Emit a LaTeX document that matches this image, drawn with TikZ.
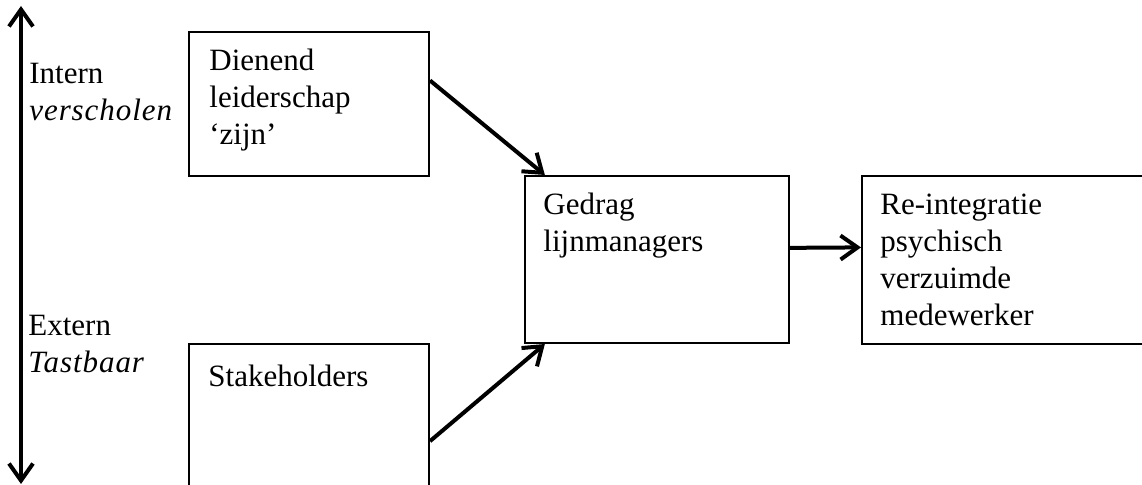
\documentclass[tikz,border=0pt]{standalone}
\usepackage{fontspec}
\setmainfont{Liberation Serif}
\usetikzlibrary{arrows.meta,positioning}
\newcommand{\slant}[1]{{\itshape\addfontfeature{LetterSpace=3}#1}}

\begin{document}
\begin{tikzpicture}
  [x=0.5pt,y=-0.5pt,
   box/.style={draw,line width=1pt,inner sep=0pt},
   txt/.style={align=left,inner sep=0pt,font=\fontsize{15.5}{18.6}\selectfont},
   arr/.style={line width=2pt,-{Straight Barb[length=8.5pt,width=12pt]}},
   dbl/.style={line width=2pt,{Straight Barb[length=8.5pt,width=12pt]}-{Straight Barb[length=8.5pt,width=12pt]}}]
  \useasboundingbox (0,0) rectangle (1142,485);

  \node[box,minimum width=120pt,minimum height=72pt] (lead) at (309,104) {};
  \node[box,minimum width=120pt,minimum height=78pt] (stake) at (309,422) {};
  \node[box,minimum width=132pt,minimum height=83.5pt] (gedrag) at (657,259.5) {};
  \node[box,minimum width=143pt,minimum height=84pt] (reint) at (1005,260) {};

  \node[txt,below right=8.7pt and 10.5pt of lead.north west] (leadtxt) {Dienend\\leiderschap\\`zijn'};
  \node[txt,below right=11pt and 10pt of stake.north west] (staketxt) {Stakeholders};
  \node[txt,below right=8.7pt and 9.5pt of gedrag.north west] (gedragtxt) {Gedrag\\lijnmanagers};
  \node[txt,below right=9.2pt and 9.5pt of reint.north west] (reinttxt) {Re-integratie\\psychisch\\verzuimde\\medewerker};

  \coordinate (up) at (21,6);
  \coordinate (down) at (21,484);
  \draw[dbl] (up) -- (down);
  \node[txt,anchor=north west] (intern) at (29,62.5) {Intern\\\slant{verscholen}};
  \node[txt,anchor=north west] (extern) at (28,314.5) {Extern\\\slant{Tastbaar}};

  \foreach \from/\to in {lead.11/gedrag.143, stake.351/gedrag.217, gedrag.5/reint.175}
    \draw[arr] (\from) -- (\to);

\end{tikzpicture}
\end{document}
